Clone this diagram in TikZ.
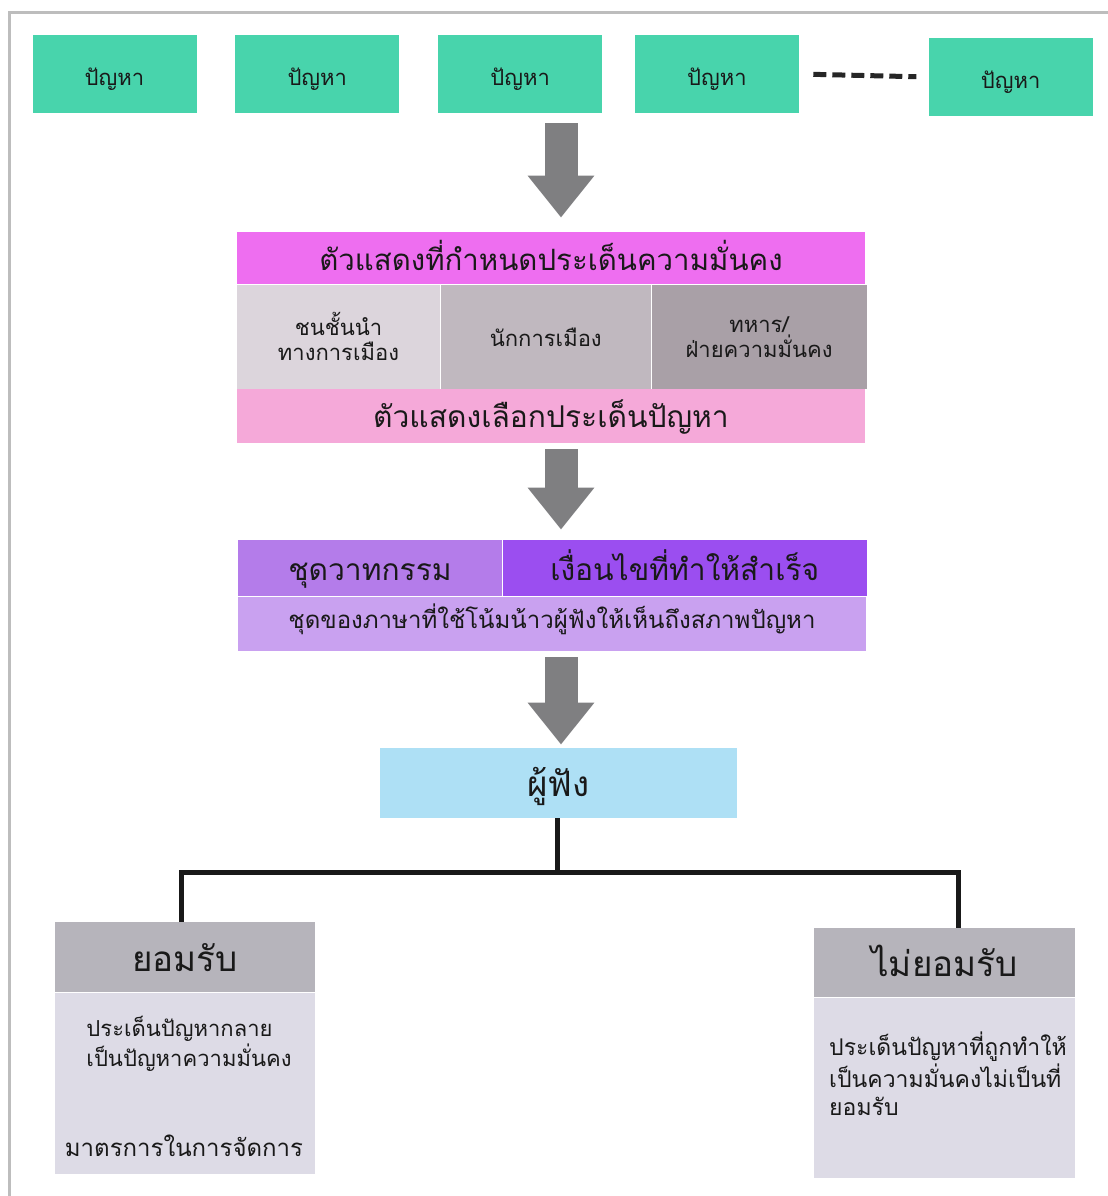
\documentclass[tikz,border=0pt]{standalone}
\usepackage{fontspec}
\setmainfont[Script=Thai]{Loma}
\usepackage{xcolor}
\usepackage{tikz}
\usetikzlibrary{positioning,arrows.meta}

\definecolor{probgreen}{HTML}{48D4AC}
\definecolor{actmagenta}{HTML}{EE6EF0}
\definecolor{actpink}{HTML}{F5A9D9}
\definecolor{cellone}{HTML}{DCD5DC}
\definecolor{celltwo}{HTML}{C0B8BF}
\definecolor{cellthree}{HTML}{A9A0A7}
\definecolor{framelight}{HTML}{B47CEA}
\definecolor{framedark}{HTML}{9B4EF0}
\definecolor{framepale}{HTML}{C9A1F0}
\definecolor{listblue}{HTML}{AEE0F5}
\definecolor{headgray}{HTML}{B6B4BB}
\definecolor{bodygray}{HTML}{DDDBE6}
\definecolor{arrowgray}{HTML}{7F7F81}
\definecolor{framegray}{HTML}{BDBDBD}

\begin{document}
\begin{tikzpicture}[x=0.5pt, y=-0.5pt,
    every node/.style={rectangle, inner sep=0pt, text centered, text=black!90},
    baseline drop/.style={text height=#1, text depth=0pt},
    probbox/.style={fill=probgreen, minimum width=82pt, minimum height=39pt, baseline drop=11pt, font=\fontsize{11}{13}\selectfont},
    cell/.style={minimum height=52pt, align=center, font=\fontsize{11}{12.5}\selectfont},
    bigarrow/.style={draw=arrowgray, line width=16.5pt, -{Triangle[width=32pt,length=21pt]}},
    tree/.style={draw=black!90, line width=2.5pt}]
    \useasboundingbox (0,0) rectangle (1108,1196);
    \draw[framegray, line width=1.5pt] (9,1196) -- (9,12) -- (1108,12);

    % problems
    \node [probbox] at (114.5,74) (Prob1) {ปัญหา};
    \node [probbox, right=19pt of Prob1] (Prob2) {ปัญหา};
    \node [probbox, right=19pt of Prob2] (Prob3) {ปัญหา};
    \node [probbox, right=16pt of Prob3] (Prob4) {ปัญหา};
    \node [probbox, right=64.5pt of Prob4, yshift=-1.5pt] (Prob5) {ปัญหา};

    % actors
    \node [fill=actmagenta, minimum width=314pt, minimum height=26pt, baseline drop=12.5pt, font=\fontsize{14.7}{17}\selectfont] at (551,258) (Actors) {ตัวแสดงที่กำหนดประเด็นความมั่นคง};
    \node [cell, fill=cellone, minimum width=101.5pt, anchor=north west] at (Actors.south west) (Elite) {ชนชั้นนำ\\ทางการเมือง};
    \node [cell, fill=celltwo, minimum width=105pt, right=0pt of Elite] (Politician) {นักการเมือง};
    \node [cell, fill=cellthree, minimum width=107.5pt, right=0pt of Politician] (Military) {ทหาร/\\ฝ่ายความมั่นคง};
    \node [fill=actpink, minimum width=314pt, minimum height=27pt, baseline drop=12pt, font=\fontsize{15}{17}\selectfont, below=52pt of Actors] (Select) {ตัวแสดงเลือกประเด็นปัญหา};

    % discourse
    \node [fill=framelight, minimum width=132pt, minimum height=28pt, baseline drop=12pt, font=\fontsize{15}{17}\selectfont] at (370,568) (Discourse) {ชุดวาทกรรม};
    \node [fill=framedark, minimum width=182pt, minimum height=28pt, baseline drop=12pt, font=\fontsize{15}{17}\selectfont, right=0pt of Discourse] (Condition) {เงื่อนไขที่ทำให้สำเร็จ};
    \node [fill=framepale, minimum width=314pt, minimum height=27pt, baseline drop=5pt, font=\fontsize{12}{14}\selectfont, anchor=north west] at (Discourse.south west) (Lang) {ชุดของภาษาที่ใช้โน้มน้าวผู้ฟังให้เห็นถึงสภาพปัญหา};

    % audience
    \node [fill=listblue, minimum width=178.5pt, minimum height=35pt, baseline drop=13pt, font=\fontsize{17.5}{19}\selectfont] at (558.5,783) (Listener) {ผู้ฟัง};

    % results
    \node [fill=headgray, minimum width=130pt, minimum height=35pt, baseline drop=14pt, font=\fontsize{17.5}{19}\selectfont] at (185,957) (AcceptHead) {ยอมรับ};
    \node [fill=bodygray, minimum width=130pt, minimum height=90.5pt, below=0pt of AcceptHead] (AcceptBody) {};
    \node [align=left, font=\fontsize{11}{15}\selectfont] at (189,1044) (AcceptText) {ประเด็นปัญหากลาย\\เป็นปัญหาความมั่นคง};
    \node [font=\fontsize{12}{14}\selectfont] at (184,1146) (AcceptMeasure) {มาตรการในการจัดการ};
    \node [fill=headgray, minimum width=130.5pt, minimum height=34.5pt, baseline drop=14pt, font=\fontsize{17.5}{19}\selectfont] at (944.5,962.5) (RejectHead) {ไม่ยอมรับ};
    \node [fill=bodygray, minimum width=130.5pt, minimum height=90pt, below=0pt of RejectHead] (RejectBody) {};
    \node [align=left, font=\fontsize{11.5}{14.2}\selectfont] at (948,1074) (RejectText) {ประเด็นปัญหาที่ถูกทำให้\\เป็นความมั่นคงไม่เป็นที่\\ยอมรับ};

    \draw[black!85, line width=2.5pt, dash pattern=on 6.5pt off 3pt, shorten <=7pt, shorten >=6pt] (Prob4.east) -- (Prob5.west);

    \coordinate (ArrowX) at (561,0);
    \draw[bigarrow] ([yshift=-5pt]ArrowX |- Prob3.south) -- ([yshift=7pt]ArrowX |- Actors.north);
    \draw[bigarrow] ([yshift=-3pt]ArrowX |- Select.south) -- ([yshift=5pt]ArrowX |- Discourse.north);
    \draw[bigarrow] ([yshift=-3pt]ArrowX |- Lang.south) -- ([yshift=1.5pt]ArrowX |- Listener.north);

    \draw[tree] ([xshift=-0.75pt]Listener.south) -- ++(0,54) coordinate (Split);
    \draw[tree] ([xshift=-2pt]AcceptHead.north) |- (Split) -| ([xshift=6.75pt]RejectHead.north);
  \end{tikzpicture}
\end{document}
